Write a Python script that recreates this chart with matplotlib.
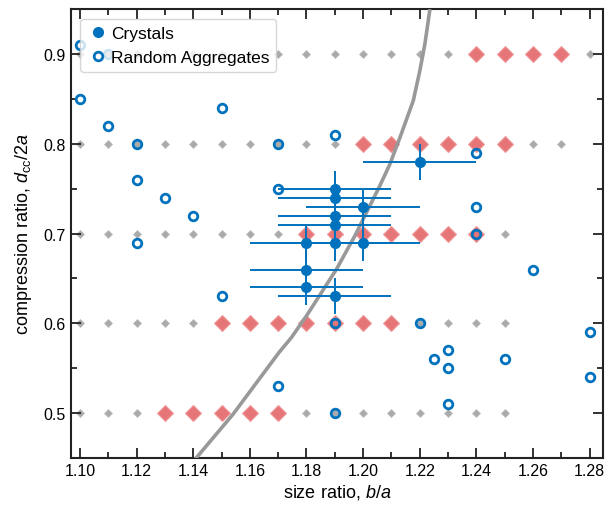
import matplotlib
matplotlib.use("Agg")
import matplotlib.pyplot as plt
from matplotlib.ticker import MultipleLocator, FormatStrFormatter

plt.rcParams['font.family'] = ['Liberation Sans', 'DejaVu Sans']
plt.rcParams['mathtext.fontset'] = 'custom'
plt.rcParams['mathtext.rm'] = 'Liberation Sans'
plt.rcParams['mathtext.it'] = 'Liberation Sans:italic'

# ---- simulation grid: unstable (grey) and stable (red) points per row ----
grid_rows = [0.5, 0.6, 0.7, 0.8, 0.9]
grey_x = [
    [1.10, 1.11, 1.12, 1.18, 1.19, 1.20, 1.21, 1.22, 1.23, 1.24, 1.25],
    [1.10, 1.11, 1.12, 1.13, 1.14, 1.22, 1.23, 1.24, 1.25],
    [1.10, 1.11, 1.12, 1.13, 1.14, 1.15, 1.16, 1.17, 1.25],
    [1.10, 1.11, 1.12, 1.13, 1.14, 1.15, 1.16, 1.17, 1.18, 1.19, 1.26, 1.27],
    [1.10, 1.11, 1.12, 1.13, 1.14, 1.15, 1.16, 1.17, 1.18, 1.19, 1.20, 1.21,
     1.22, 1.23, 1.28],
]
red_x = [
    [1.13, 1.14, 1.15, 1.16, 1.17],
    [1.15, 1.16, 1.17, 1.18, 1.19, 1.20, 1.21],
    [1.18, 1.19, 1.20, 1.21, 1.22, 1.23, 1.24],
    [1.20, 1.21, 1.22, 1.23, 1.24, 1.25],
    [1.24, 1.25, 1.26, 1.27],
]

# ---- experiments ----
cryst_x = [1.22, 1.19, 1.19, 1.20, 1.19, 1.19, 1.18, 1.19, 1.20, 1.18, 1.18, 1.19]
cryst_y = [0.78, 0.75, 0.74, 0.73, 0.72, 0.71, 0.69, 0.69, 0.69, 0.66, 0.64, 0.63]
cryst_xerr = [0.02] * 12
cryst_yerr = [0.02] * 12

rand_x = [1.10, 1.11, 1.10, 1.11, 1.12, 1.12, 1.13, 1.14, 1.12, 1.15, 1.15,
          1.17, 1.17, 1.17, 1.19, 1.19, 1.19, 1.22, 1.225, 1.23, 1.23, 1.23,
          1.24, 1.24, 1.24, 1.25, 1.26, 1.28, 1.28]
rand_y = [0.91, 0.90, 0.85, 0.82, 0.80, 0.76, 0.74, 0.72, 0.69, 0.84, 0.63,
          0.80, 0.75, 0.53, 0.81, 0.60, 0.50, 0.60, 0.56, 0.57, 0.55, 0.51,
          0.79, 0.73, 0.70, 0.56, 0.66, 0.59, 0.54]

# ---- boundary curve ----
curve_x = [1.1412, 1.1541, 1.1703, 1.1747, 1.1800, 1.1906, 1.1971, 1.2059,
           1.2094, 1.2130, 1.2177, 1.2200, 1.2218, 1.2235]
curve_y = [0.4506, 0.4989, 0.5676, 0.5843, 0.6084, 0.6604, 0.6976, 0.7533,
           0.777, 0.807, 0.848, 0.881, 0.911, 0.948]

blue = '#0072BD'

fig = plt.figure(figsize=(6.06, 5.10), dpi=100)
ax = fig.add_axes([0.117, 0.100, 0.878, 0.880])

for row, gx, rx in zip(grid_rows, grey_x, red_x):
    ax.plot(gx, [row] * len(gx), ls='none', marker='D', ms=4.2,
            mfc='#aaaaaa', mec='#bbbbbb', mew=0.5, zorder=1)
    ax.plot(rx, [row] * len(rx), ls='none', marker='D', ms=7.8,
            mfc='#e67577', mec='#f09a9b', mew=0.8, zorder=2)

ax.plot(curve_x, curve_y, color='#999999', lw=2.6, zorder=3,
        solid_joinstyle='round')

rand, = ax.plot(rand_x, rand_y, ls='none', marker='o', ms=6.2, mfc='none',
                mec=blue, mew=2.0, zorder=4)
ax.errorbar(cryst_x, cryst_y, xerr=cryst_xerr, yerr=cryst_yerr, fmt='none',
            ecolor=blue, elinewidth=1.4, capsize=0, zorder=5)
cryst, = ax.plot(cryst_x, cryst_y, ls='none', marker='o', ms=7, color=blue,
                 zorder=6)

ax.set_xlim(1.0968, 1.2847)
ax.set_ylim(0.45, 0.95)
ax.xaxis.set_major_locator(MultipleLocator(0.02))
ax.xaxis.set_minor_locator(MultipleLocator(0.01))
ax.yaxis.set_major_locator(MultipleLocator(0.1))
ax.yaxis.set_minor_locator(MultipleLocator(0.05))
ax.xaxis.set_major_formatter(FormatStrFormatter('%.2f'))
ax.yaxis.set_major_formatter(FormatStrFormatter('%.1f'))
ax.tick_params(which='both', direction='in', top=True, right=True,
               width=1.3, labelsize=11.5, color='#222222')
ax.tick_params(which='major', length=7)
ax.tick_params(which='minor', length=4)
for s in ax.spines.values():
    s.set_linewidth(1.5)
    s.set_color('#222222')

ax.set_xlabel('size ratio, $b/a$', fontsize=13, labelpad=3)
ax.set_ylabel(r'compression ratio, $d_{\rm cc}/2a$', fontsize=13, labelpad=7)

ax.legend([cryst, rand], ['Crystals', 'Random Aggregates'], loc='upper left',
          fontsize=12.5, handletextpad=0.15, handlelength=1.2, borderpad=0.4,
          labelspacing=0.5, framealpha=0.8, edgecolor='#cccccc',
          borderaxespad=0.55)

fig.savefig('out.png', dpi=100)
